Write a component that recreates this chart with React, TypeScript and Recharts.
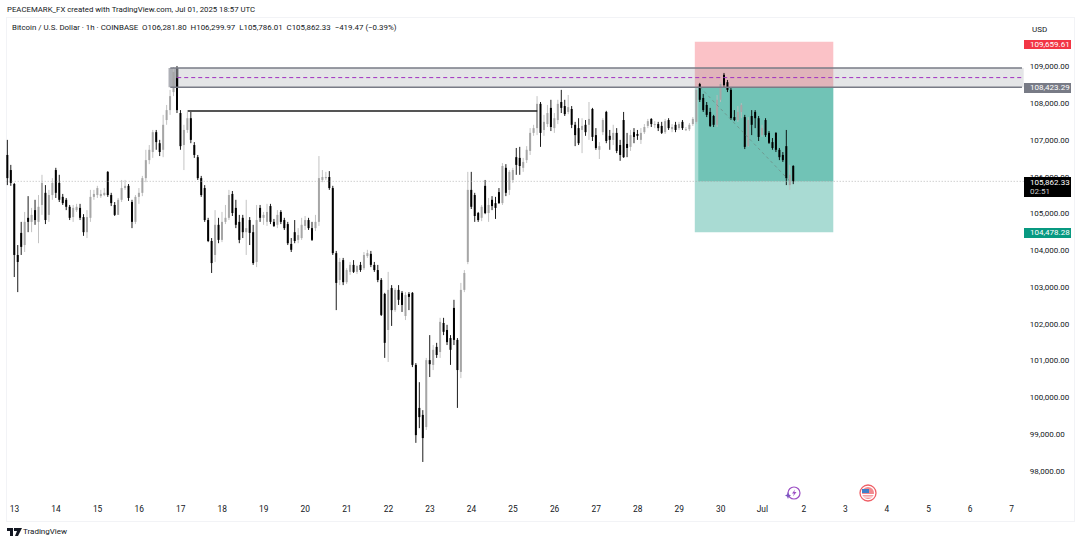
import { ComposedChart, Bar, XAxis, YAxis, ReferenceArea, ReferenceLine } from 'recharts';

// two-hour candles, from 12 Jun evening to 1 Jul
const opens = [
  106580,106170,105790,103860,104460,104130,104870,104760,105080,104760,
  105220,105550,104950,105490,106170,105820,105440,105360,105170,104890,
  105080,105140,104890,104480,104870,105440,105490,105460,105490,106120,
  105490,105220,104950,105360,105680,105740,105300,104760,105440,105550,
  105950,106440,106660,107200,106900,106720,107530,107800,108290,108670,
  107720,106850,107260,107580,106850,106520,105950,105680,104810,104240,
  103860,104680,104270,104760,104870,105520,105140,104760,104870,104480,
  104810,104480,103670,105140,104870,104760,105190,104760,104680,105030,
  104810,104700,104160,104480,104270,104320,104650,104810,104590,104590,
  104760,105900,105950,105980,105680,103910,103180,103720,103120,103400,
  103590,103400,103590,103500,103830,103890,103590,103450,103180,102800,
  101820,102960,102360,102910,102830,102200,102800,102830,100870,99700,
  99510,99180,101000,100870,101360,101220,102010,101820,101600,102420,
  101550,100680,102910,103670,105630,105490,105000,104870,105740,105000,
  105360,105270,105570,105270,106230,105630,105900,106520,106500,106230,
  106440,106690,107180,107310,107970,107260,107420,107860,107310,107530,
  108020,107910,107750,107830,107400,107310,107260,107400,107400,107830,
  107120,106720,107200,107750,107100,106990,107180,106850,107530,106880,
  106800,107200,107150,106990,107200,107370,107560,107400,107420,107370,
  107200,107530,107280,107400,107310,107480,107260,107280,107420,107480,
  108510,108130,107940,107750,107640,107400,108080,108760,108560,108350,
  107610,107530,107750,107610,106820,107640,107750,107580,107120,107530,
  107180,106930,107180,106720,106580,106820,105760,106281.8,
];
const closes = [
  105950,105820,103860,103670,104080,104760,104760,104950,104810,105170,
  105820,104810,105490,105820,105550,105360,105270,105170,104870,105140,
  105170,104870,104480,104890,105440,105520,105680,105520,105550,105490,
  105270,104950,105360,105680,105740,105410,104760,105440,105550,105950,
  106440,106720,107200,106930,106660,107400,107800,108180,108840,107800,
  106820,107260,107580,106990,106580,105950,105490,104810,104240,103640,
  104680,104270,104760,104870,105490,105000,104680,104270,104480,104590,
  104460,103640,104810,104870,104950,105030,104760,104650,104950,104760,
  104590,104180,104000,104240,104400,104680,104810,104590,104270,104760,
  105950,105980,105980,105680,103910,103100,103670,103120,103450,103590,
  103400,103560,103450,103860,103910,103590,103450,103180,102230,101470,
  102910,102360,102910,102640,102500,102770,102720,100870,98960,99450,
  98880,101000,100890,101280,101140,102040,101770,101490,101280,101550,
  100730,102910,103370,105630,105170,104920,104810,105170,105000,105220,
  105190,105140,105270,106280,105550,106120,106170,106310,106280,106390,
  106720,107180,107310,107970,107180,107480,107720,107340,107580,107970,
  107860,107690,107880,107400,107120,106900,107370,107200,107560,107070,
  106770,106820,107530,106960,106990,107180,106690,106580,106520,106770,
  107120,107070,107100,107180,107340,107500,107420,107420,107310,107180,
  107500,107310,107340,107260,107420,107310,107280,107400,107560,108350,
  108080,107800,107670,107370,107400,108080,108510,108480,108350,107580,
  107530,107750,107940,106800,107530,107400,107580,107070,107310,107120,
  106910,106770,106720,106520,106440,105950,106040,105862.33,
];
const highs = [
  106990,106310,105820,104130,104760,105030,105460,105140,105360,105490,
  106040,105760,105630,105950,106230,106040,105520,105410,105220,105220,
  105250,105250,104970,105080,105630,105630,105740,105630,105680,106140,
  105550,105300,105410,105900,105900,105790,105360,105490,105680,106010,
  106720,106850,107260,107260,106990,107670,107940,108350,108970,109000,
  107800,107400,107750,107750,106930,106580,106010,105760,104870,104320,
  105080,104870,105030,105220,105630,105600,105360,104950,104950,105360,
  104890,104680,105220,105220,105030,105250,105250,104840,105080,105080,
  104870,104760,104320,104810,104590,104870,104920,104870,104760,104950,
  106550,106170,106120,106140,105740,103970,103780,103780,103500,103670,
  103720,103590,103670,103940,104000,103970,103670,103590,103230,102830,
  103400,103040,102960,103040,102880,102850,102850,102850,100920,100400,
  99640,101060,101680,101410,101470,102150,102150,101960,101680,102640,
  101600,103100,103450,106120,106120,105550,105030,105220,105900,105410,
  105460,105440,105680,106360,106330,106170,106230,106770,106800,106500,
  106820,107310,107400,108180,108020,107670,107940,108080,107720,108080,
  108350,108080,108210,107910,107480,107580,107580,107530,108020,107860,
  107310,106930,107580,107780,107260,107400,107310,106990,107750,107180,
  107260,107310,107260,107310,107420,107560,107580,107500,107480,107480,
  107560,107580,107420,107480,107480,107530,107340,107450,107610,108400,
  108540,108240,108020,107860,107670,108210,108560,108810,108620,108400,
  107800,107910,107990,107670,107610,107800,107800,107640,107400,107580,
  107230,107040,107200,106770,106660,107260,106310,106299.97,
];
const lows = [
  105760,105740,103260,102850,103860,103940,104480,104480,104680,104180,
  104950,104700,104760,105360,105410,105300,105220,105080,104810,104760,
  105030,104810,104380,104320,104760,105360,105410,105410,105460,105440,
  105190,104920,104950,105300,105630,105330,104590,104700,105250,105460,
  105840,106330,106500,106720,106550,106520,107400,107670,108180,107720,
  106720,106170,107180,106900,106500,105900,105440,104760,104210,103370,
  103670,104180,104210,104700,104810,104920,104590,104180,104320,103860,
  104130,103590,103530,104760,104680,104650,104700,104620,104590,104700,
  104540,104130,103940,104180,104180,104270,104540,104540,104240,104510,
  104650,105840,105900,105630,103860,102360,103040,103040,103070,103320,
  103370,103340,103400,103450,103780,103530,103400,103120,102200,101060,
  100950,101930,102310,102500,102310,102090,102360,100810,98750,99150,
  98230,99100,100540,100730,101060,101060,101680,101410,100870,101410,
  99700,100510,102850,103610,105110,104760,104760,104780,104970,104760,
  105080,104840,105250,105220,105460,105490,105820,106040,106040,106120,
  106360,106580,107100,107120,106800,107100,107340,107230,107180,107420,
  107720,107640,107690,107310,106820,106850,106630,107100,106990,106960,
  106720,106470,107120,106900,106720,106850,106630,106420,106500,106520,
  106690,106900,106990,106880,107150,107310,107340,107310,107230,107150,
  107150,107260,107200,107200,107260,107260,107230,107230,107370,107420,
  108020,107750,107610,107340,107340,107340,108020,108430,108290,107530,
  107500,107480,107580,106740,106800,107120,107310,106960,107070,107070,
  106880,106720,106660,106440,106390,105760,105630,105786.01,
];

const dayLabels = ['13','14','15','16','17','18','19','20','21','22','23','24','25','26','27','28','29','30','Jul','2','3','4','5','6','7'];
const dayTicks = dayLabels.map((_, i) => 2 + i * 12);
const priceTicks = [98000,99000,100000,101000,102000,103000,104000,105000,106000,107000,108000,109000];

const ROWS = 294; // empty rows on the right hold the future dates

const zoneTop = 108945;
const zoneBottom = 108423.29;
const zoneMid = 108684;
const swingHigh = 107775;
const stopPrice = 109659.61;
const entryPrice = 108423.29;
const targetPrice = 104478.28;
const lastPrice = 105862.33;

const rows = Array.from({ length: ROWS }, (_, idx) =>
  idx < opens.length
    ? {
        idx,
        open: opens[idx],
        close: closes[idx],
        high: Math.max(highs[idx], opens[idx], closes[idx]),
        low: Math.min(lows[idx], opens[idx], closes[idx]),
      }
    : { idx },
);

const UP = '#a6a6a6';
const UP_WICK = '#bcbcbc';
const DOWN = '#000000';
const FONT = 'Roboto, sans-serif';

function Candle(props: any) {
  const { x, y, width, height, payload } = props;
  if (payload.high == null) return null;
  const isUp = payload.close >= payload.open;
  const perUnit = height / (payload.high - payload.low || 1);
  const top = y + (payload.high - Math.max(payload.open, payload.close)) * perUnit;
  const bodyH = Math.abs(payload.open - payload.close) * perUnit;
  const cx = x + width / 2;
  return (
    <g>
      <line x1={cx} x2={cx} y1={y} y2={y + height} stroke={isUp ? UP_WICK : DOWN} strokeWidth={0.9} />
      <rect x={cx - 1} y={top} width={2} height={Math.max(bodyH, 1)} fill={isUp ? UP : DOWN} />
    </g>
  );
}

function PriceTag({ text, sub, top, height, bg }: { text: string; sub?: string; top: number; height: number; bg: string }) {
  return (
    <div
      style={{
        position: 'absolute',
        left: 1024,
        top,
        width: 47,
        height,
        background: bg,
        color: '#fff',
        fontSize: 8,
        lineHeight: sub ? '9px' : `${height}px`,
        paddingLeft: 6,
        paddingTop: sub ? 1 : 0,
        boxSizing: 'border-box',
        overflow: 'hidden',
        fontFamily: FONT,
      }}
    >
      {text}
      {sub && <div style={{ color: '#ccc' }}>{sub}</div>}
    </div>
  );
}

export default function App() {
  return (
    <div style={{ position: 'absolute', left: 0, top: 0, width: 1080, height: 543, background: '#fff', fontFamily: FONT, overflow: 'hidden' }}>
      <div style={{ position: 'absolute', left: 6, top: 17, width: 1067, height: 503, border: '1px solid #f2f3f6' }} />
      <div style={{ position: 'absolute', left: 7, top: 5, fontSize: 7.8, color: '#131722', whiteSpace: 'nowrap' }}>
        PEACEMARK_FX created with TradingView.com, Jul 01, 2025 18:57 UTC
      </div>

      <div style={{ position: 'absolute', left: 0, top: 0 }}>
        <ComposedChart
          width={1080}
          height={543}
          data={rows}
          margin={{ top: 18, right: 0, bottom: 23, left: 5.85 }}
          barCategoryGap={0}
        >
          <XAxis
            dataKey='idx'
            ticks={dayTicks}
            interval={0}
            height={22}
            axisLine={false}
            tickLine={false}
            tickMargin={2}
            tick={{ fontSize: 8.4, fill: '#131722' }}
            tickFormatter={(v) => dayLabels[(Number(v) - 2) / 12]}
          />
          <YAxis
            orientation='right'
            width={56.3}
            domain={[97250, 110305]}
            ticks={priceTicks}
            interval={0}
            axisLine={false}
            tickLine={false}
            tickSize={0}
            tickMargin={6}
            tick={{ fontSize: 8, fill: '#131722', dy: 0.5 }}
            tickFormatter={(v) => Number(v).toLocaleString('en-US', { minimumFractionDigits: 2 })}
          />
          <Bar
            dataKey={(d) => (d.high == null ? null : [d.low, d.high])}
            shape={Candle}
            isAnimationActive={false}
          />
          <ReferenceArea x1={199} x2={238} y1={entryPrice} y2={stopPrice} fill='#f23645' fillOpacity={0.3} stroke='none' />
          <ReferenceArea x1={199} x2={238} y1={targetPrice} y2={entryPrice} fill='#089981' fillOpacity={0.35} stroke='none' />
          <ReferenceArea x1={200} x2={238} y1={lastPrice} y2={entryPrice} fill='#089981' fillOpacity={0.35} stroke='none' />
          <ReferenceArea x1={47} x2={293} y1={zoneBottom} y2={zoneTop} fill='#787b86' fillOpacity={0.2} stroke='none' />
          <ReferenceArea x1={47} x2={49} y1={zoneBottom} y2={zoneTop} fill='#787b86' fillOpacity={0.5} stroke='none' />
          <ReferenceLine segment={[{ x: 47, y: zoneTop }, { x: 293, y: zoneTop }]} stroke='#787b86' strokeWidth={1.6} />
          <ReferenceLine segment={[{ x: 47, y: zoneBottom }, { x: 293, y: zoneBottom }]} stroke='#787b86' strokeWidth={1.6} />
          <ReferenceLine
            segment={[{ x: 49, y: zoneMid }, { x: 293, y: zoneMid }]}
            stroke='#a030c0'
            strokeWidth={1}
            strokeDasharray='4 3'
          />
          <ReferenceLine
            segment={[{ x: 52, y: swingHigh }, { x: 153, y: swingHigh }]}
            stroke='#1c1c1c'
            strokeWidth={1.5}
          />
          <ReferenceLine
            segment={[{ x: 200, y: entryPrice }, { x: 226, y: lastPrice }]}
            stroke='#6f8f88'
            strokeWidth={0.8}
            strokeDasharray='3 3'
          />
          <ReferenceLine y={lastPrice} stroke='#a9a9a9' strokeWidth={0.8} strokeDasharray='1 2' />
        </ComposedChart>
      </div>

      <div style={{ position: 'absolute', left: 12, top: 23, fontSize: 7.9, color: '#131722', whiteSpace: 'nowrap' }}>
        Bitcoin / U.S. Dollar · 1h · COINBASE&nbsp; O106,281.80&nbsp; H106,299.97&nbsp; L105,786.01&nbsp; C105,862.33&nbsp; −419.47 (−0.39%)
      </div>

      <PriceTag text='109,659.61' top={40} height={9} bg='#f23645' />
      <PriceTag text='108,423.29' top={83} height={10} bg='#787b86' />
      <PriceTag text='105,862.33' sub='02:51' top={177} height={20} bg='#000000' />
      <PriceTag text='104,478.28' top={228} height={10} bg='#089981' />

      <div style={{ position: 'absolute', left: 1027, top: 21, width: 43, height: 18, background: '#fff', borderRadius: 3, fontSize: 8, lineHeight: '17px', paddingLeft: 5, boxSizing: 'border-box', color: '#131722' }}>
        USD
      </div>

      <svg style={{ position: 'absolute', left: 784, top: 484 }} width={18} height={18} viewBox='0 0 18 18'>
        <circle cx={10} cy={9} r={6} fill='#fff' stroke='#9c4fc4' strokeWidth={1.2} />
        <path d='M11 5.5 L8 9.5 H10 L9 12.5 L12.5 8 H10.3 Z' fill='#9c4fc4' />
        <path d='M4 8 L5 10.5 L7 11.5 L5 12.5 L4 15 L3 12.5 L1 11.5 L3 10.5 Z' fill='#7e57c2' />
      </svg>
      <svg style={{ position: 'absolute', left: 859, top: 484 }} width={18} height={18} viewBox='0 0 18 18'>
        <circle cx={9} cy={9} r={8} fill='#fff' stroke='#ef5f66' strokeWidth={1.3} />
        <circle cx={9} cy={9} r={6} fill='#f28a8f' />
        <rect x={3} y={5} width={7} height={4} fill='#3f7fc9' />
        <rect x={3} y={10} width={12} height={1.2} fill='#fff' />
        <rect x={4} y={12.5} width={10} height={1.1} fill='#fff' />
      </svg>

      <svg style={{ position: 'absolute', left: 7, top: 528 }} width={15} height={8} viewBox='0 0 15 8'>
        <path d='M0 0 H6 V8 H3 V3 H0 Z M7 0 H15 L11 8 H8 L10 3 H7 Z' fill='#131722' />
        <circle cx={8.3} cy={1.5} r={1.4} fill='#131722' />
      </svg>
      <div style={{ position: 'absolute', left: 23, top: 527, fontSize: 8, color: '#131722' }}>TradingView</div>
    </div>
  );
}
